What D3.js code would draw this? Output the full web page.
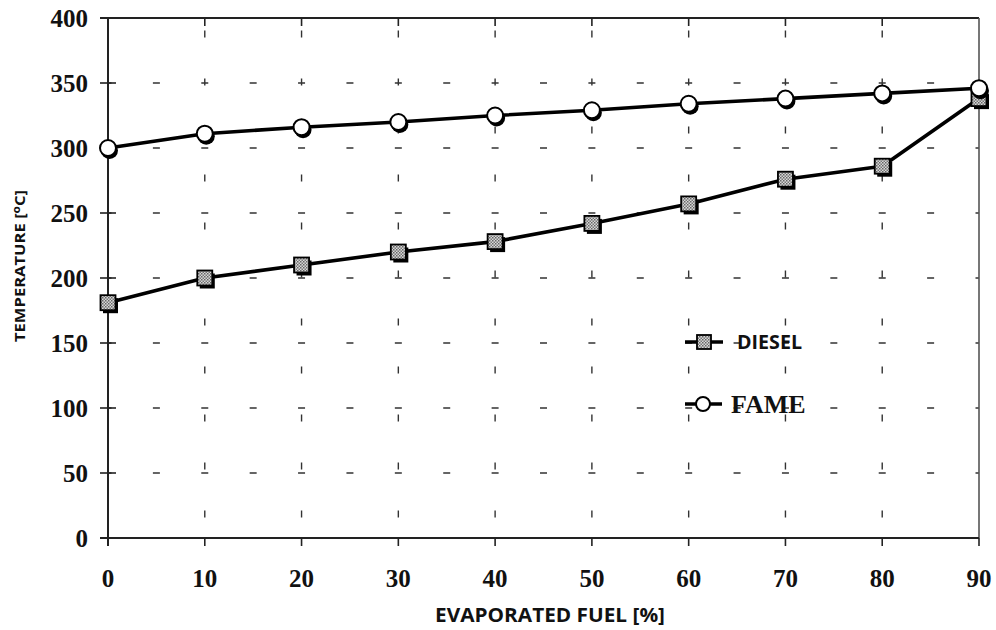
<!DOCTYPE html>
<html>
<head>
<meta charset="utf-8">
<script src="https://cdn.jsdelivr.net/npm/d3@7"></script>
<style>
  body { margin: 0; background: #fff; }
  svg { display: block; }
</style>
</head>
<body>
<svg id="chart" width="996" height="630"></svg>
<script>
// data
const evaporated = [0, 10, 20, 30, 40, 50, 60, 70, 80, 90];
const diesel = [181, 200, 210, 220, 228, 242, 257, 276, 286, 338];
const fame = [300, 311, 316, 320, 325, 329, 334, 338, 342, 346];
const yTicks = [0, 50, 100, 150, 200, 250, 300, 350, 400];
const xTicks = [0, 10, 20, 30, 40, 50, 60, 70, 80, 90];

const svg = d3.select('#chart');

const x = d3.scaleLinear().domain([0, 90]).range([108, 979]);
const y = d3.scaleLinear().domain([0, 400]).range([538, 18]);

const x0 = x(0), x1 = x(90), yBot = y(0), yTop = y(400);
const halfStep = (x(10) - x(0)) / 2;

const sansFont = '"Open Sans", "DejaVu Sans", sans-serif';
const labelFont = '"Liberation Serif", "Times New Roman", serif';

// stipple fill for the diesel squares
const defs = svg.append('defs');
const pat = defs.append('pattern')
    .attr('id', 'stipple')
    .attr('width', 3).attr('height', 3)
    .attr('patternUnits', 'userSpaceOnUse');
pat.append('rect').attr('width', 3).attr('height', 3).attr('fill', '#d8d8d8');
pat.append('rect').attr('width', 1.5).attr('height', 1.5).attr('fill', '#666');
pat.append('rect').attr('x', 1.5).attr('y', 1.5).attr('width', 1.5).attr('height', 1.5).attr('fill', '#777');

// dashed grid
const grid = svg.append('g').attr('stroke', '#333').attr('stroke-width', 1.4);

grid.selectAll('.hgrid')
    .data(yTicks.filter(d => d > 0 && d < 400))
    .enter()
    .append('line')
    .attr('x1', x0).attr('x2', x1)
    .attr('y1', d => y(d)).attr('y2', d => y(d))
    .attr('stroke-dasharray', `7 ${halfStep - 7}`)
    .attr('stroke-dashoffset', 3.5);

grid.selectAll('.vgrid')
    .data(xTicks.filter(d => d > 0 && d < 90))
    .enter()
    .append('line')
    .attr('x1', d => x(d)).attr('x2', d => x(d))
    .attr('y1', yBot).attr('y2', yTop)
    .attr('stroke-dasharray', '7 41')
    .attr('stroke-dashoffset', 27.5);

// frame
const frame = svg.append('g').attr('stroke', '#222').attr('fill', 'none');
frame.append('line').attr('x1', x0 - 8).attr('x2', x1).attr('y1', yTop).attr('y2', yTop).attr('stroke-width', 1.8);
frame.append('line').attr('x1', x1).attr('x2', x1).attr('y1', yTop).attr('y2', yBot).attr('stroke-width', 1.6).attr('stroke', '#555');
frame.append('line').attr('x1', x0).attr('x2', x0).attr('y1', yTop).attr('y2', yBot + 8).attr('stroke-width', 2);
frame.append('line').attr('x1', x0 - 8).attr('x2', x1).attr('y1', yBot).attr('y2', yBot).attr('stroke-width', 2.2);

// tick marks
frame.selectAll('.ytick')
    .data(yTicks)
    .enter()
    .append('line')
    .attr('x1', x0 - 8).attr('x2', x0 + 8)
    .attr('y1', d => y(d)).attr('y2', d => y(d))
    .attr('stroke-width', 1.6);

frame.selectAll('.xtick')
    .data(xTicks)
    .enter()
    .append('line')
    .attr('x1', d => x(d)).attr('x2', d => x(d))
    .attr('y1', yBot).attr('y2', yBot + 8)
    .attr('stroke-width', 1.6);

frame.selectAll('.xtickTop')
    .data(xTicks.slice(1, 9))
    .enter()
    .append('line')
    .attr('x1', d => x(d)).attr('x2', d => x(d))
    .attr('y1', yTop).attr('y2', yTop + 8)
    .attr('stroke-width', 1.6);

// tick labels
svg.selectAll('.ylab')
    .data(yTicks)
    .enter()
    .append('text')
    .attr('x', 88)
    .attr('y', d => y(d))
    .attr('dy', '0.34em')
    .attr('text-anchor', 'end')
    .attr('font-family', labelFont)
    .attr('font-weight', 'bold')
    .attr('font-size', 25)
    .attr('fill', '#111')
    .text(d => d);

svg.selectAll('.xlab')
    .data(xTicks)
    .enter()
    .append('text')
    .attr('x', d => x(d))
    .attr('y', 587)
    .attr('text-anchor', 'middle')
    .attr('font-family', labelFont)
    .attr('font-weight', 'bold')
    .attr('font-size', 25)
    .attr('fill', '#111')
    .text(d => d);

// axis titles
svg.append('text')
    .attr('x', 550)
    .attr('y', 622)
    .attr('text-anchor', 'middle')
    .attr('font-family', sansFont)
    .attr('font-weight', 700)
    .attr('font-size', 20)
    .attr('textLength', 230)
    .attr('lengthAdjust', 'spacingAndGlyphs')
    .attr('fill', '#111')
    .text('EVAPORATED FUEL [%]');

const yTitle = svg.append('text')
    .attr('transform', 'translate(25,266) rotate(-90)')
    .attr('text-anchor', 'middle')
    .attr('font-family', sansFont)
    .attr('font-weight', 700)
    .attr('font-size', 14)
    .attr('textLength', 152)
    .attr('lengthAdjust', 'spacingAndGlyphs')
    .attr('fill', '#111');
yTitle.append('tspan').text('TEMPERATURE [');
yTitle.append('tspan').attr('dy', -5).attr('font-size', 10).text('o');
yTitle.append('tspan').attr('dy', 5).text('C]');

// series lines
const line = d3.line()
    .x((d, i) => x(evaporated[i]))
    .y(d => y(d));

svg.append('path')
    .datum(diesel)
    .attr('d', line)
    .attr('fill', 'none')
    .attr('stroke', '#000')
    .attr('stroke-width', 3.6)
    .attr('stroke-linejoin', 'round');

svg.append('path')
    .datum(fame)
    .attr('d', line)
    .attr('fill', 'none')
    .attr('stroke', '#000')
    .attr('stroke-width', 3.6)
    .attr('stroke-linejoin', 'round');

// markers, with the dark drop shadow seen in the print
function drawSquare(g, cx, cy) {
    g.append('rect')
        .attr('x', cx - 7 + 2).attr('y', cy - 7 + 2.5)
        .attr('width', 15).attr('height', 15)
        .attr('fill', '#000');
    g.append('rect')
        .attr('x', cx - 7.5).attr('y', cy - 7.5)
        .attr('width', 15).attr('height', 15)
        .attr('fill', 'url(#stipple)')
        .attr('stroke', '#000')
        .attr('stroke-width', 1.8);
}

function drawCircle(g, cx, cy) {
    g.append('circle')
        .attr('cx', cx + 1.5).attr('cy', cy + 2.5)
        .attr('r', 8.5)
        .attr('fill', '#000');
    g.append('circle')
        .attr('cx', cx).attr('cy', cy)
        .attr('r', 8)
        .attr('fill', '#fff')
        .attr('stroke', '#000')
        .attr('stroke-width', 2);
}

const dieselMarks = svg.append('g');
diesel.forEach((v, i) => drawSquare(dieselMarks, x(evaporated[i]), y(v)));

const fameMarks = svg.append('g');
fame.forEach((v, i) => drawCircle(fameMarks, x(evaporated[i]), y(v)));

// legend
const legend = svg.append('g');
legend.append('line')
    .attr('x1', 685).attr('x2', 723).attr('y1', 342).attr('y2', 342)
    .attr('stroke', '#000').attr('stroke-width', 3.6);
legend.append('rect')
    .attr('x', 697).attr('y', 335).attr('width', 14).attr('height', 14)
    .attr('fill', 'url(#stipple)').attr('stroke', '#000').attr('stroke-width', 1.8);
legend.append('text')
    .attr('x', 737).attr('y', 349)
    .attr('font-family', sansFont)
    .attr('font-weight', 700)
    .attr('font-size', 19)
    .attr('textLength', 65)
    .attr('lengthAdjust', 'spacingAndGlyphs')
    .attr('fill', '#111')
    .text('DIESEL');

legend.append('line')
    .attr('x1', 685).attr('x2', 722).attr('y1', 404).attr('y2', 404)
    .attr('stroke', '#000').attr('stroke-width', 3.6);
legend.append('circle')
    .attr('cx', 703).attr('cy', 404).attr('r', 7)
    .attr('fill', '#fff').attr('stroke', '#000').attr('stroke-width', 2);
legend.append('text')
    .attr('x', 731).attr('y', 413)
    .attr('font-family', labelFont)
    .attr('font-weight', 'bold')
    .attr('font-size', 26)
    .attr('fill', '#111')
    .text('FAME');
</script>
</body>
</html>
